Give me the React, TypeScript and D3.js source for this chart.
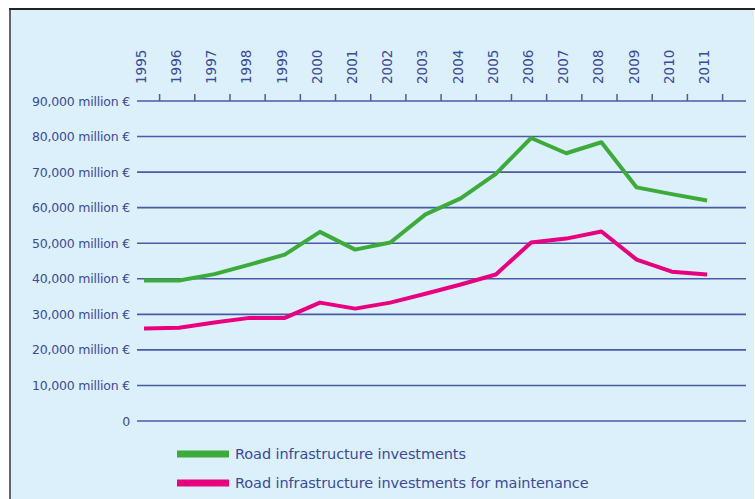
import { useEffect, useRef } from 'react';
import * as d3 from 'd3';

const years = [
  '1995', '1996', '1997', '1998', '1999', '2000', '2001', '2002', '2003',
  '2004', '2005', '2006', '2007', '2008', '2009', '2010', '2011',
];

// million €
const totalInvestments = [
  39500, 39500, 41300, 44000, 46800, 53200, 48200, 50200, 58100,
  62600, 69500, 79600, 75300, 78400, 65700, 63800, 62000,
];

const maintenanceInvestments = [
  26000, 26200, 27700, 29000, 29000, 33300, 31600, 33300, 35800,
  38400, 41200, 50200, 51300, 53300, 45400, 42000, 41200,
];

const yTicks = [0, 10000, 20000, 30000, 40000, 50000, 60000, 70000, 80000, 90000];

const legendItems = [
  { label: 'Road infrastructure investments', color: '#3dab3a' },
  { label: 'Road infrastructure investments for maintenance', color: '#e8007f' },
];

const W = 755;
const H = 499;
const TEXT = '#3b4a9c';
const GRID = '#4a5aa8';
const FONT = '"DejaVu Sans", sans-serif';

export default function App() {
  const svgRef = useRef<SVGSVGElement>(null);

  useEffect(() => {
    if (!svgRef.current) return;
    const svg = d3.select(svgRef.current);
    svg.selectAll('*').remove();

    // panel
    svg.append('rect').attr('x', 0).attr('y', 0).attr('width', W).attr('height', H).attr('fill', '#ffffff');
    svg.append('rect')
      .attr('x', 10).attr('y', 9).attr('width', W - 11).attr('height', H - 9)
      .attr('fill', '#dbf0fb');
    svg.append('line').attr('x1', 9).attr('x2', W).attr('y1', 9).attr('y2', 9)
      .attr('stroke', '#222').attr('stroke-width', 2);
    svg.append('line').attr('x1', 10).attr('x2', 10).attr('y1', 9).attr('y2', H)
      .attr('stroke', '#333').attr('stroke-width', 1.5);

    const x = d3.scalePoint<string>().domain(years).range([144, 707]);
    const y = d3.scaleLinear().domain([0, 90000]).range([421, 101]);
    const gridLeft = 137;
    const gridRight = 746;

    // horizontal gridlines + y labels
    const yg = svg.append('g');
    yTicks.forEach((t) => {
      yg.append('line')
        .attr('x1', gridLeft).attr('x2', gridRight)
        .attr('y1', y(t)).attr('y2', y(t))
        .attr('stroke', GRID).attr('stroke-width', 1.6);
      yg.append('text')
        .attr('x', 130).attr('y', y(t)).attr('dy', '0.36em')
        .attr('text-anchor', 'end')
        .attr('fill', TEXT)
        .style('font-family', FONT)
        .style('font-size', '12.5px')
        .style('letter-spacing', '-0.2px')
        .text(t === 0 ? '0' : `${d3.format(',')(t)} million €`);
    });

    // top axis ticks and year labels
    const step = x.step();
    const top = y(90000);
    years.forEach((yr) => {
      svg.append('line')
        .attr('x1', x(yr)! + step / 2 - 2).attr('x2', x(yr)! + step / 2 - 2)
        .attr('y1', top).attr('y2', top - 7)
        .attr('stroke', GRID).attr('stroke-width', 1.5);
      svg.append('text')
        .attr('transform', `translate(${x(yr)! - 3},84) rotate(-90)`)
        .attr('dy', '0.36em')
        .attr('fill', TEXT)
        .style('font-family', FONT)
        .style('font-size', '13.5px')
        .text(yr);
    });

    const line = d3.line<number>()
      .x((_, i) => x(years[i])!)
      .y((d) => y(d));

    [maintenanceInvestments, totalInvestments].forEach((series, i) => {
      svg.append('path')
        .datum(series)
        .attr('fill', 'none')
        .attr('stroke', i === 0 ? legendItems[1].color : legendItems[0].color)
        .attr('stroke-width', 4)
        .attr('stroke-linejoin', 'round')
        .attr('d', line);
    });

    // legend
    legendItems.forEach((item, i) => {
      const ly = 454 + i * 29;
      svg.append('rect')
        .attr('x', 177).attr('y', ly - 3.5).attr('width', 52).attr('height', 7)
        .attr('fill', item.color);
      svg.append('text')
        .attr('x', 235).attr('y', ly).attr('dy', '0.36em')
        .attr('fill', TEXT)
        .style('font-family', FONT)
        .style('font-size', '14.5px')
        .style('letter-spacing', '-0.1px')
        .text(item.label);
    });
  }, []);

  return (
    <svg
      ref={svgRef}
      width={W}
      height={H}
      style={{ position: 'absolute', left: 0, top: 0, display: 'block' }}
    />
  );
}
